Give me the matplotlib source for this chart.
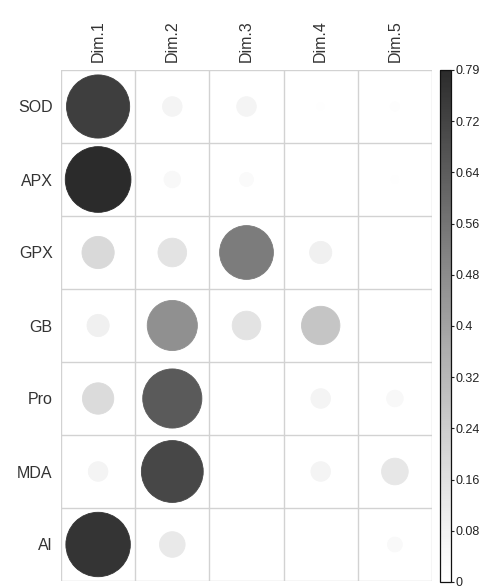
import numpy as np
import matplotlib
matplotlib.use("Agg")
import matplotlib.pyplot as plt
from matplotlib.colors import LinearSegmentedColormap, Normalize, PowerNorm
from matplotlib.patches import Ellipse
from matplotlib.cm import ScalarMappable

plt.rcParams['font.family'] = ['Liberation Sans', 'DejaVu Sans']

# Variables (rows) and dimensions (columns)
variables = ["SOD", "APX", "GPX", "GB", "Pro", "MDA", "Al"]
dims = ["Dim.1", "Dim.2", "Dim.3", "Dim.4", "Dim.5"]

# cos2 of each variable on each dimension
sod = [0.73, 0.07, 0.07, 0.01, 0.015]
apx = [0.79, 0.05, 0.035, 0.003, 0.01]
gpx = [0.19, 0.15, 0.53, 0.09, 0.002]
gb = [0.09, 0.46, 0.15, 0.27, 0.002]
pro = [0.18, 0.64, 0.0, 0.07, 0.05]
mda = [0.07, 0.70, 0.006, 0.07, 0.13]
al = [0.76, 0.12, 0.0, 0.0, 0.04]

cbar_ticks = [0, 0.079, 0.158, 0.237, 0.316, 0.395, 0.474, 0.553, 0.632, 0.711, 0.79]
cbar_labels = ["0", "0.08", "0.16", "0.24", "0.32", "0.4", "0.48", "0.56", "0.64", "0.72", "0.79"]

values = np.array([sod, apx, gpx, gb, pro, mda, al])
vmin, vmax = 0.0, 0.79

W, H = 480, 587
fig = plt.figure(figsize=(W / 100, H / 100), dpi=100)

# grid area in pixel coordinates
gx0, gx1, gy0, gy1 = 61, 432, 70, 581
ax = fig.add_axes([gx0 / W, 1 - gy1 / H, (gx1 - gx0) / W, (gy1 - gy0) / H])

nrow, ncol = values.shape
cmap = LinearSegmentedColormap.from_list("grey_ramp", ["#ffffff", "#2b2b2b"])
norm = PowerNorm(gamma=1.2, vmin=vmin, vmax=vmax)

ax.set_xlim(0, ncol)
ax.set_ylim(nrow, 0)

cell_w = (gx1 - gx0) / ncol
cell_h = (gy1 - gy0) / nrow
for i in range(nrow):
    for j in range(ncol):
        v = values[i, j]
        if v <= 0:
            continue
        # radius in pixels, circle area proportional to value
        r_px = 0.45 * cell_h * np.sqrt(v / vmax)
        col = cmap(norm(v))
        e = Ellipse((j + 0.5, i + 0.5), width=2 * r_px / cell_w, height=2 * r_px / cell_h,
                    facecolor=col, edgecolor=col, linewidth=0.6, zorder=2)
        ax.add_patch(e)

# grid lines
for k in range(ncol + 1):
    ax.axvline(k, color="#d2d2d2", lw=1.0, zorder=1)
for k in range(nrow + 1):
    ax.axhline(k, color="#d2d2d2", lw=1.0, zorder=1)
for s in ax.spines.values():
    s.set_visible(False)

ax.set_xticks(np.arange(ncol) + 0.5)
ax.set_xticklabels(dims, rotation=90, fontsize=11.5, color="#333333")
ax.set_yticks(np.arange(nrow) + 0.5)
ax.set_yticklabels(variables, fontsize=11.5, color="#333333")
ax.tick_params(axis="both", length=0, pad=6)
ax.xaxis.tick_top()

# colour bar
cx0, cx1, cy0, cy1 = 440, 451, 70, 582
cax = fig.add_axes([cx0 / W, 1 - cy1 / H, (cx1 - cx0) / W, (cy1 - cy0) / H])
sm = ScalarMappable(norm=norm, cmap=cmap)
cb = fig.colorbar(sm, cax=cax)
cb.ax.set_yscale("linear")
cb.ax.set_ylim(vmin, vmax)
cb.set_ticks(cbar_ticks)
cb.ax.set_yticklabels(cbar_labels)
cb.ax.tick_params(labelsize=9, length=2.5, width=0.8, pad=0.5, colors="#222222")
cb.outline.set_edgecolor("#111111")
cb.outline.set_linewidth(0.9)

fig.savefig("out.png", dpi=100, facecolor="white")
